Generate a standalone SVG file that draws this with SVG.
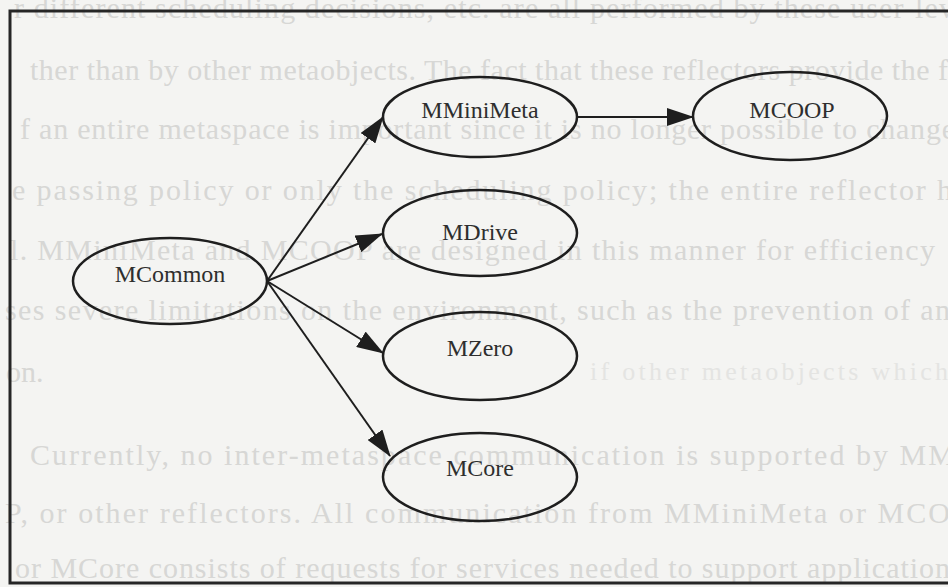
<svg xmlns="http://www.w3.org/2000/svg" width="948" height="587" viewBox="0 0 948 587">
  <defs>
    <marker id="arrow" markerUnits="userSpaceOnUse" markerWidth="27" markerHeight="18" viewBox="0 0 27 18" refX="26" refY="9" orient="auto">
      <path d="M0,0 L27,9 L0,18 Z" fill="#1e1e1e"/>
    </marker>
  </defs>
  <style>
    .page { fill: #f4f4f2; }
    .bleed { font-family: "Liberation Serif", "Times New Roman", serif; font-size: 30px; fill: #d7d7d5; }
    .bleed-faint { font-family: "Liberation Serif", "Times New Roman", serif; font-size: 26px; fill: #e4e4e2; }
    .frame { fill: none; stroke: #262626; stroke-width: 3; }
    .node ellipse { fill: none; stroke: #1e1e1e; stroke-width: 2.5; }
    .node text { font-family: "Liberation Serif", "Times New Roman", serif; font-size: 24px; fill: #2e2e2e; text-anchor: middle; }
    .edge { fill: none; stroke: #1e1e1e; stroke-width: 2; marker-end: url(#arrow); }
  </style>

  <rect class="page" x="0" y="0" width="948" height="587"/>

  <!-- surrounding page text, printed faintly behind the figure -->
  <g id="page-text">
    <text class="bleed" x="14" y="18" textLength="940" lengthAdjust="spacing">r different scheduling decisions, etc. are all performed by these user-lev</text>
    <text class="bleed" x="30" y="80" textLength="918" lengthAdjust="spacing">ther than by other metaobjects. The fact that these reflectors provide the f</text>
    <text class="bleed" x="20" y="139" textLength="935" lengthAdjust="spacing">f an entire metaspace is important since it is no longer possible to change</text>
    <text class="bleed" x="12" y="200" textLength="940" lengthAdjust="spacing">e passing policy or only the scheduling policy; the entire reflector h</text>
    <text class="bleed" x="10" y="260" textLength="925" lengthAdjust="spacing">l. MMiniMeta and MCOOP are designed in this manner for efficiency</text>
    <text class="bleed" x="5" y="320" textLength="945" lengthAdjust="spacing">ses severe limitations on the environment, such as the prevention of an</text>
    <text class="bleed" x="6" y="382">on.</text>
    <text class="bleed-faint" x="590" y="380" textLength="358" lengthAdjust="spacing">if other metaobjects which</text>
    <text class="bleed" x="30" y="465" textLength="925" lengthAdjust="spacing">Currently, no inter-metaspace communication is supported by MM</text>
    <text class="bleed" x="5" y="523" textLength="945" lengthAdjust="spacing">P, or other reflectors. All communication from MMiniMeta or MCO</text>
    <text class="bleed" x="15" y="578" textLength="935" lengthAdjust="spacing">or MCore consists of requests for services needed to support application</text>
  </g>

  <!-- figure frame, running past the right edge -->
  <rect class="frame" x="10" y="11" width="960" height="572"/>

  <!-- connectors -->
  <g id="edges">
    <line class="edge" x1="267" y1="281" x2="383" y2="117"/>
    <line class="edge" x1="267" y1="281" x2="382" y2="234"/>
    <line class="edge" x1="267" y1="281" x2="383" y2="353"/>
    <line class="edge" x1="267" y1="281" x2="390" y2="456"/>
    <line class="edge" x1="577" y1="117" x2="693" y2="117"/>
  </g>

  <!-- nodes -->
  <g id="MCommon" class="node">
    <ellipse cx="170" cy="281" rx="97" ry="43"/>
    <text x="170" y="282">MCommon</text>
  </g>
  <g id="MMiniMeta" class="node">
    <ellipse cx="480" cy="117" rx="97" ry="40"/>
    <text x="480" y="118">MMiniMeta</text>
  </g>
  <g id="MCOOP" class="node">
    <ellipse cx="790" cy="116" rx="97" ry="44"/>
    <text x="792" y="118">MCOOP</text>
  </g>
  <g id="MDrive" class="node">
    <ellipse cx="480" cy="233" rx="97" ry="43"/>
    <text x="480" y="240">MDrive</text>
  </g>
  <g id="MZero" class="node">
    <ellipse cx="480" cy="356" rx="97" ry="44"/>
    <text x="480" y="356">MZero</text>
  </g>
  <g id="MCore" class="node">
    <ellipse cx="480" cy="477" rx="97" ry="44"/>
    <text x="480" y="476">MCore</text>
  </g>
</svg>
